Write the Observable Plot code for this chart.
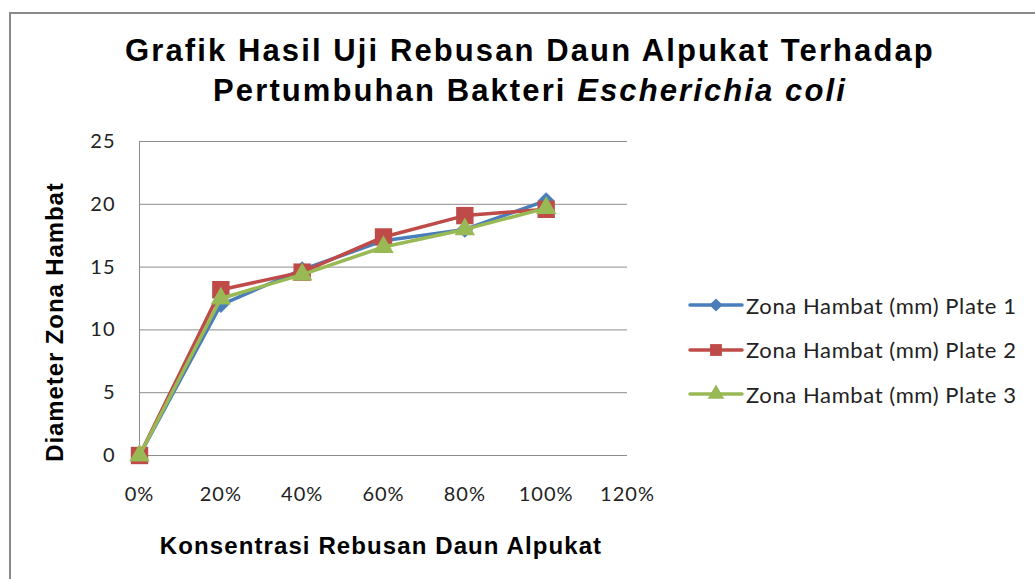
<!DOCTYPE html>
<html>
<head>
<meta charset="utf-8">
<script src="https://cdn.jsdelivr.net/npm/d3@7"></script>
<script src="https://cdn.jsdelivr.net/npm/@observablehq/plot@0.6"></script>
<style>
  html, body { margin: 0; padding: 0; background: #fff; }
  #wrap { position: relative; width: 1035px; height: 579px; overflow: hidden; background: #fff; }
  #frame { position: absolute; left: 9px; top: 12px; width: 1100px; height: 700px; border: 2px solid #8a8a8a; box-sizing: border-box; }
  #title { position: absolute; left: 30px; width: 1000px; top: 31px; text-align: center; font-family: "Liberation Sans", Arial, sans-serif; font-weight: bold; font-size: 31px; letter-spacing: 2.1px; line-height: 40px; color: #000; }
  #ytitle { position: absolute; left: 55px; top: 322px; transform: translate(-50%, -50%) rotate(-90deg); white-space: nowrap; font-family: "Liberation Sans", Arial, sans-serif; font-weight: bold; font-size: 24px; letter-spacing: 0.9px; color: #000; }
  #xtitle { position: absolute; left: 381px; top: 546px; transform: translate(-50%, -50%); white-space: nowrap; font-family: "Liberation Sans", Arial, sans-serif; font-weight: bold; font-size: 24px; letter-spacing: 1.1px; color: #000; }
  #chart { position: absolute; left: 0; top: 0; }
  #legend { position: absolute; left: 688px; top: 283px; font-family: Lato, "Open Sans", sans-serif; font-size: 22px; letter-spacing: 0.6px; color: #222; }
  .li { display: flex; align-items: center; height: 44.5px; }
  .li svg { margin-right: 2px; }
</style>
</head>
<body>
<div id="wrap">
  <div id="frame"></div>
  <div id="chart"></div>
  <div id="title">Grafik Hasil Uji Rebusan Daun Alpukat Terhadap<br>Pertumbuhan Bakteri <i>Escherichia coli</i></div>
  <div id="ytitle">Diameter Zona Hambat</div>
  <div id="xtitle">Konsentrasi Rebusan Daun Alpukat</div>
  <div id="legend"></div>
</div>
<script>
const konsentrasi = [0, 0.2, 0.4, 0.6, 0.8, 1.0];
const xTicks = [0, 0.2, 0.4, 0.6, 0.8, 1.0, 1.2];
const yTicks = [0, 5, 10, 15, 20, 25];
const seriesNames = ["Zona Hambat (mm) Plate 1", "Zona Hambat (mm) Plate 2", "Zona Hambat (mm) Plate 3"];
const plate1 = [0, 12.0, 14.8, 17.1, 18.0, 20.3];
const plate2 = [0, 13.2, 14.6, 17.4, 19.1, 19.6];
const plate3 = [0, 12.5, 14.4, 16.6, 18.0, 19.7];
const seriesColors = ["#4a7ebb", "#be4b48", "#98b954"];
const seriesSymbols = ["diamond2", "square", "triangle"];
const seriesR = [7.5, 9.8, 7.6];

const allValues = [plate1, plate2, plate3];
const marks = [
  Plot.gridY(yTicks, {stroke: "#8c8c8c", strokeOpacity: 1, strokeWidth: 1}),
  Plot.ruleX([0], {stroke: "#8c8c8c", strokeWidth: 1}),
  Plot.axisY(yTicks, {tickSize: 0, tickPadding: 24, label: null}),
  Plot.axisX(xTicks, {tickSize: 0, tickPadding: 31, label: null, tickFormat: d3.format(".0%")})
];
allValues.forEach((vals, i) => {
  const data = konsentrasi.map((k, j) => ({k, v: vals[j]}));
  marks.push(Plot.line(data, {x: "k", y: "v", stroke: seriesColors[i], strokeWidth: 3.5, strokeLinejoin: "round"}));
  marks.push(Plot.dot(data, {x: "k", y: "v", fill: seriesColors[i], stroke: "none", symbol: seriesSymbols[i], r: seriesR[i]}));
});

const chart = Plot.plot({
  width: 1035,
  height: 579,
  marginLeft: 139,
  marginRight: 408,
  marginTop: 141,
  marginBottom: 124,
  style: {fontFamily: "Lato, 'Open Sans', sans-serif", fontSize: "20px", letterSpacing: "1px", color: "#222", background: "transparent", overflow: "visible"},
  x: {domain: [0, 1.2]},
  y: {domain: [0, 25]},
  marks
});
document.getElementById("chart").appendChild(chart);

// legend
const legend = d3.select("#legend");
seriesNames.forEach((name, i) => {
  const row = legend.append("div").attr("class", "li");
  const svg = row.append("svg").attr("width", 56).attr("height", 22);
  svg.append("line").attr("x1", 2).attr("x2", 54).attr("y1", 11).attr("y2", 11)
    .attr("stroke", seriesColors[i]).attr("stroke-width", 3.5).attr("stroke-linecap", "round");
  const sym = {diamond2: d3.symbolDiamond2, square: d3.symbolSquare, triangle: d3.symbolTriangle}[seriesSymbols[i]];
  const sizes = [110, 140, 120];
  svg.append("path").attr("transform", "translate(28,11)")
    .attr("d", d3.symbol(sym, sizes[i])()).attr("fill", seriesColors[i]);
  row.append("span").text(name);
});
</script>
</body>
</html>
